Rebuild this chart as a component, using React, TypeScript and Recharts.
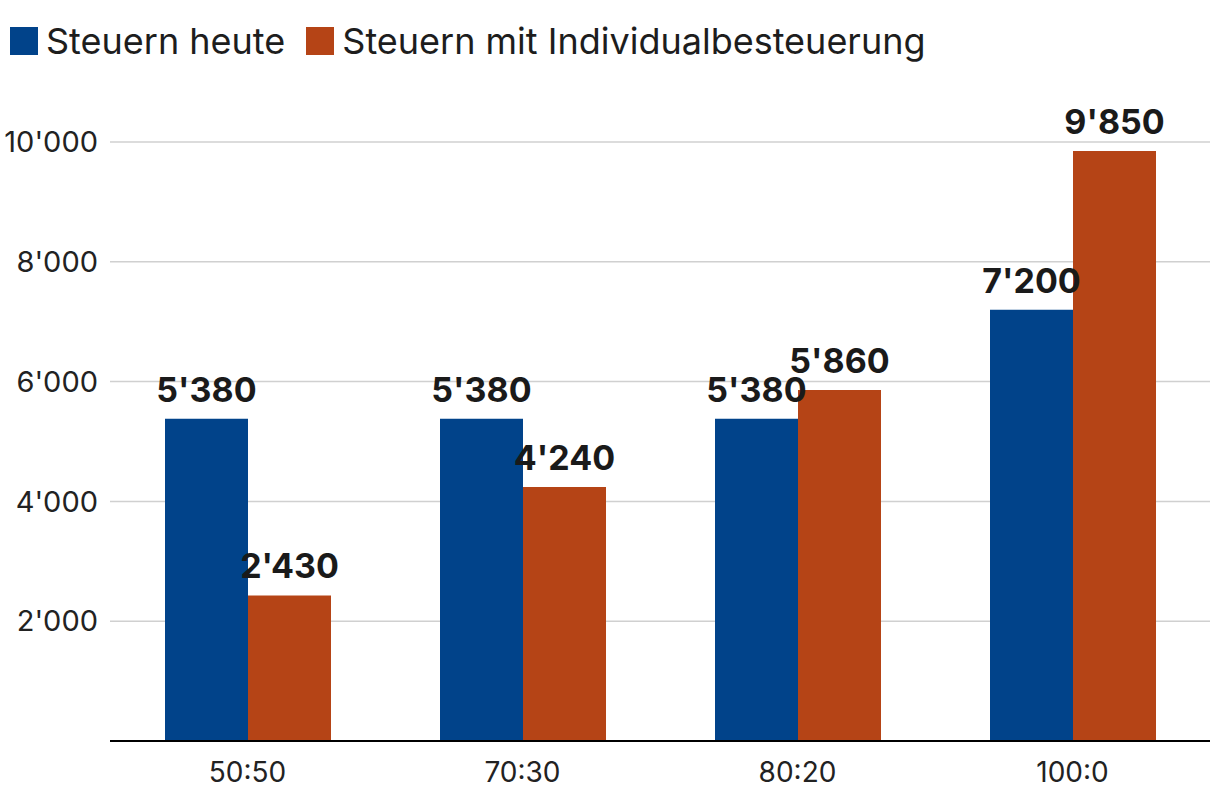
import React from "react";
import { BarChart, Bar, XAxis, YAxis, CartesianGrid, Legend, LabelList } from "recharts";

const categories = ["50:50", "70:30", "80:20", "100:0"];
const steuernHeute = [5380, 5380, 5380, 7200];
const steuernIndividual = [2430, 4240, 5860, 9850];
const yTicks = [2000, 4000, 6000, 8000, 10000];

const seriesNames = ["Steuern heute", "Steuern mit Individualbesteuerung"];
const colors = ["#01438A", "#B54416"];

const data = categories.map((c, i) => ({
  name: c,
  heute: steuernHeute[i],
  individual: steuernIndividual[i],
}));

const fmt = (v: any) => String(v).replace(/\B(?=(\d{3})+(?!\d))/g, "'");

const FONT = "Inter, 'Noto Sans', sans-serif";

const LegendContent = () => (
  <div style={{ display: "flex", alignItems: "center", height: 50, fontFamily: FONT, fontSize: 36, color: "#1d1d1d" }}>
    {seriesNames.map((n, i) => (
      <div key={n} style={{ display: "flex", alignItems: "center", marginRight: 21 }}>
        <div style={{ width: 28, height: 28, background: colors[i], marginRight: 8 }} />
        <span style={{ lineHeight: "40px" }}>{n}</span>
      </div>
    ))}
  </div>
);

export default function App() {
  return (
    <div style={{ position: "absolute", left: 0, top: 0, width: 1220, height: 800, background: "#fff" }}>
      <BarChart
        width={1220}
        height={800}
        data={data}
        margin={{ top: 92, right: 10, left: 0, bottom: 0 }}
        barCategoryGap="20%"
        barGap={0}
      >
        <Legend verticalAlign="top" align="left" content={<LegendContent />} wrapperStyle={{ top: 16, left: 10 }} />
        <CartesianGrid vertical={false} stroke="#d0d0d0" strokeWidth={1.5} />
        <XAxis
          dataKey="name"
          axisLine={{ stroke: "#000", strokeWidth: 2 }}
          tickLine={false}
          tickSize={0}
          tickMargin={21}
          height={59}
          tick={{ fontSize: 28, fill: "#222", fontFamily: FONT }}
        />
        <YAxis
          domain={[0, 10000]}
          ticks={yTicks}
          width={110}
          axisLine={false}
          tickLine={false}
          tickSize={0}
          tickMargin={12}
          tickFormatter={fmt}
          tick={{ fontSize: 29, fill: "#222", fontFamily: FONT }}
        />
        <Bar dataKey="heute" name={seriesNames[0]} fill={colors[0]} isAnimationActive={false}>
          <LabelList dataKey="heute" position="top" offset={17} formatter={fmt} style={{ fontSize: 34, fontWeight: 700, fill: "#1a1a1a", fontFamily: FONT }} />
        </Bar>
        <Bar dataKey="individual" name={seriesNames[1]} fill={colors[1]} isAnimationActive={false}>
          <LabelList dataKey="individual" position="top" offset={17} formatter={fmt} style={{ fontSize: 34, fontWeight: 700, fill: "#1a1a1a", fontFamily: FONT }} />
        </Bar>
      </BarChart>
    </div>
  );
}
